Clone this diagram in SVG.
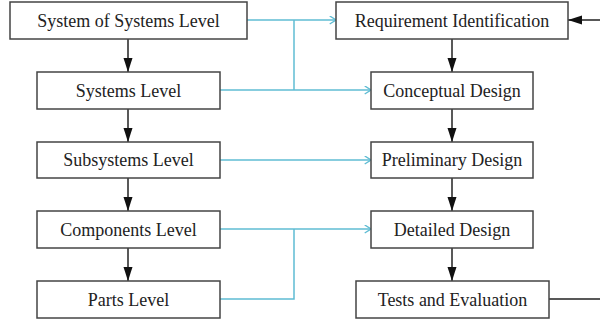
<svg xmlns="http://www.w3.org/2000/svg" width="600" height="320" viewBox="0 0 600 320">
<style>
.box{fill:#fff;stroke:#444;stroke-width:1.5}
.lbl{font-family:"Liberation Serif","DejaVu Serif",serif;font-size:18px;fill:#222;text-anchor:middle}
.blk{fill:none;stroke:#222;stroke-width:1.5}
.blu{fill:none;stroke:#5fbcd3;stroke-width:1.5}
</style>
<defs>
<marker id="ah" viewBox="0 0 14 10" refX="14" refY="5" markerWidth="14" markerHeight="10" markerUnits="userSpaceOnUse" orient="auto">
<path d="M0,0.5 L14,5 L0,9.5 Z" fill="#111"/>
</marker>
<marker id="ab" viewBox="0 0 10 10" refX="9" refY="5" markerWidth="9" markerHeight="9" markerUnits="userSpaceOnUse" orient="auto">
<path d="M2,0.5 L9,5 L2,9.5" fill="none" stroke="#5fbcd3" stroke-width="1.5"/>
</marker>
</defs>
<g id="connectors">
<path class="blk" d="M128,39 V72" marker-end="url(#ah)"/>
<path class="blk" d="M128,109 V142" marker-end="url(#ah)"/>
<path class="blk" d="M128,178 V211" marker-end="url(#ah)"/>
<path class="blk" d="M128,248 V281" marker-end="url(#ah)"/>
<path class="blk" d="M452,39 V72" marker-end="url(#ah)"/>
<path class="blk" d="M452,109 V142" marker-end="url(#ah)"/>
<path class="blk" d="M452,178 V211" marker-end="url(#ah)"/>
<path class="blk" d="M452,248 V281" marker-end="url(#ah)"/>
<path class="blk" d="M549,299 H606 V20 H568" marker-end="url(#ah)"/>
<path class="blu" d="M247,20 H336" marker-end="url(#ab)"/>
<path class="blu" d="M220,90 H371" marker-end="url(#ab)"/>
<path class="blu" d="M294,20 V90"/>
<path class="blu" d="M220,160 H371" marker-end="url(#ab)"/>
<path class="blu" d="M220,229 H371" marker-end="url(#ab)"/>
<path class="blu" d="M220,299 H294 V229"/>
</g>
<g id="sos"><rect class="box" x="10" y="2" width="237" height="37"/><text class="lbl" x="128.5" y="26.5">System of Systems Level</text></g>
<g id="systems"><rect class="box" x="37" y="72" width="183" height="37"/><text class="lbl" x="128.5" y="96.5">Systems Level</text></g>
<g id="subsystems"><rect class="box" x="37" y="142" width="183" height="36"/><text class="lbl" x="128.5" y="166">Subsystems Level</text></g>
<g id="components"><rect class="box" x="37" y="211" width="183" height="37"/><text class="lbl" x="128.5" y="235.5">Components Level</text></g>
<g id="parts"><rect class="box" x="37" y="281" width="183" height="37"/><text class="lbl" x="128.5" y="305.5">Parts Level</text></g>
<g id="req"><rect class="box" x="336" y="2" width="232" height="37"/><text class="lbl" x="452" y="26.5">Requirement Identification</text></g>
<g id="conceptual"><rect class="box" x="371" y="72" width="162" height="37"/><text class="lbl" x="452" y="96.5">Conceptual Design</text></g>
<g id="preliminary"><rect class="box" x="371" y="142" width="162" height="36"/><text class="lbl" x="452" y="166">Preliminary Design</text></g>
<g id="detailed"><rect class="box" x="371" y="211" width="162" height="37"/><text class="lbl" x="452" y="235.5">Detailed Design</text></g>
<g id="tests"><rect class="box" x="356" y="281" width="193" height="37"/><text class="lbl" x="452.5" y="305.5">Tests and Evaluation</text></g>
</svg>
